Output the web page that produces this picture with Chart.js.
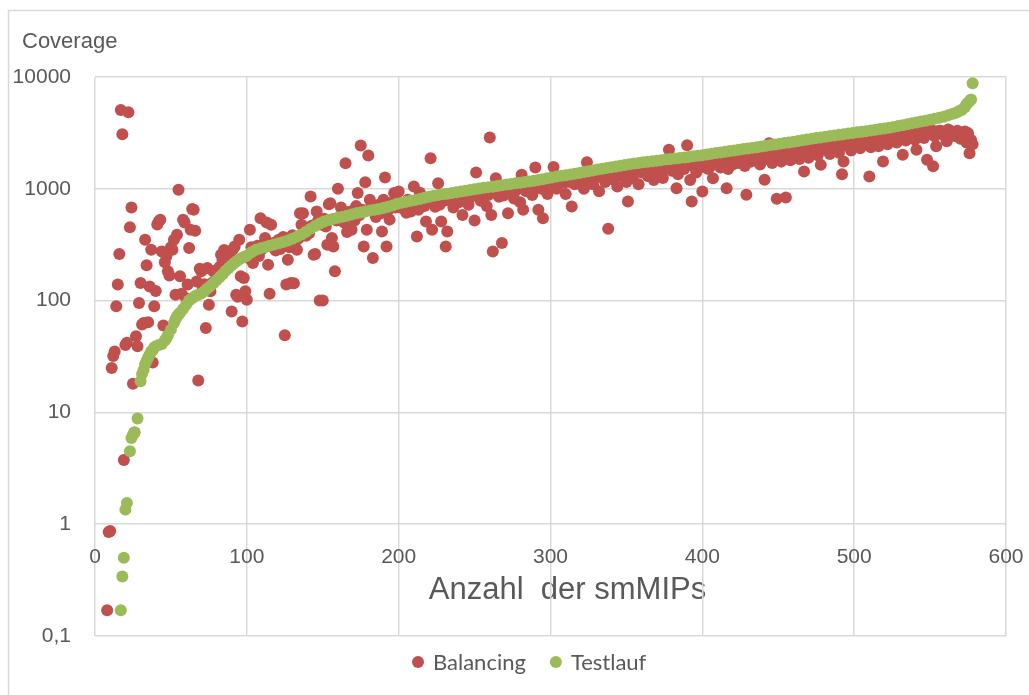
<!DOCTYPE html>
<html>
<head>
<meta charset="utf-8">
<title>Coverage smMIPs</title>
<script src="https://cdn.jsdelivr.net/npm/chart.js@4.4.1/dist/chart.umd.min.js"></script>
<style>
  html, body { margin: 0; padding: 0; background: #ffffff; overflow: hidden; }
  #wrap { position: absolute; left: 0; top: 0; width: 1029px; height: 695px; }
</style>
</head>
<body>
<div id="wrap"><canvas id="chart" width="1029" height="695"></canvas></div>
<script>
// Axis texts
const yAxisTitle = 'Coverage';
const xAxisTitle = 'Anzahl  der smMIPs';

// Y ticks (log scale) and their labels, as printed in the chart
const coverageTicks = [0.1, 1, 10, 100, 1000, 10000];
const coverageTickLabels = ['0,1', '1', '10', '100', '1000', '10000'];

// X ticks
const smmipTicks = [0, 100, 200, 300, 400, 500, 600];

// Balancing: [smMIP index, coverage], scattered part and outliers
const balancing = [
  [8, 0.17], [9, 0.85], [10, 0.87], [11, 25], [12, 32], [13, 35], [14, 89], [15, 139], [16, 261], [17, 5070],
  [18, 3075], [19, 3.75], [20, 40], [21, 42], [22, 4830], [23, 454], [24, 680], [25, 18], [26, 6.6], [27, 48],
  [28, 39], [29, 95], [30, 144], [31, 61], [32, 63], [33, 350], [34, 207], [35, 64], [36, 134], [37, 285],
  [38, 28], [39, 89], [40, 122], [41, 480], [42, 510], [43, 530], [44, 275], [45, 60], [46, 220], [47, 249],
  [48, 183], [49, 168], [50, 300], [51, 285], [52, 350], [53, 113], [54, 388], [55, 980], [56, 165], [57, 115],
  [58, 530], [59, 500], [60, 105], [61, 139], [62, 295], [63, 430], [64, 660], [65, 650], [66, 421], [67, 148],
  [68, 19.3], [69, 193], [70, 183], [71, 130], [72, 140], [73, 57], [74, 196], [75, 92], [76, 121], [77, 144],
  [78, 183], [79, 150], [80, 170], [81, 190], [82, 200], [83, 257], [84, 230], [85, 283], [86, 200], [87, 240],
  [88, 270], [89, 250], [90, 80], [91, 290], [92, 305], [93, 113], [94, 108], [95, 350], [96, 165], [97, 65],
  [98, 159], [99, 121], [100, 102],
  [101, 240], [102, 430], [103, 300], [104, 217], [105, 260], [106, 280], [107, 310], [108, 250], [109, 546], [110, 290],
  [111, 320], [112, 363], [113, 500], [114, 209], [115, 115], [116, 478], [117, 300], [118, 330], [119, 280], [120, 310],
  [121, 350], [122, 290], [123, 330], [124, 370], [125, 49], [126, 139], [127, 232], [128, 300], [129, 144], [130, 385],
  [131, 143], [132, 340], [133, 285], [134, 360], [135, 605], [136, 478], [137, 605], [138, 420], [139, 380], [140, 450],
  [141, 400], [142, 853], [143, 470], [144, 257], [145, 261], [146, 627], [147, 520], [148, 100], [149, 480], [150, 100],
  [151, 540], [152, 460], [153, 316], [154, 729], [155, 743], [156, 363], [157, 305], [158, 183], [159, 520], [160, 1000],
  [161, 560], [162, 680], [163, 600], [164, 500], [165, 1694], [166, 410], [167, 620], [168, 560], [169, 430], [170, 640],
  [171, 520], [172, 700], [173, 915], [174, 580], [175, 2437], [176, 650], [177, 305], [178, 1145], [179, 430], [180, 1983],
  [181, 797], [182, 700], [183, 240], [184, 620], [185, 560], [186, 680], [187, 720], [188, 600], [189, 416], [190, 797],
  [191, 1260], [192, 305], [193, 640], [194, 530], [195, 700], [196, 760], [197, 915], [198, 680], [199, 800], [200, 946],
  [202, 720], [204, 650], [206, 800], [208, 627], [210, 1048], [212, 375], [214, 920], [216, 700], [218, 510], [220, 760],
  [221, 1877], [222, 430], [224, 690], [226, 1122], [228, 510], [230, 780], [231, 305], [232, 416], [234, 840], [236, 680],
  [238, 900], [240, 760], [242, 583], [244, 860], [246, 720], [248, 950], [250, 520], [251, 1400], [252, 880], [254, 780],
  [256, 960], [258, 700], [260, 2870], [261, 583], [262, 275], [264, 1245], [266, 850], [268, 327], [270, 900], [272, 605],
  [274, 1000], [276, 820], [278, 1060], [280, 760], [281, 1333], [282, 650], [284, 950], [286, 1100], [288, 880], [290, 1550],
  [292, 650], [294, 1000], [295, 546], [296, 1150], [298, 900], [300, 1050],
  [302, 1570], [304, 1000], [306, 1150], [308, 1250], [310, 900], [312, 1300], [314, 695], [316, 1100], [318, 1350], [320, 1200],
  [322, 1000], [324, 1727], [326, 1250], [328, 1100], [330, 1350], [332, 950], [334, 1300], [336, 1150], [338, 440], [340, 1400],
  [342, 1200], [344, 1050], [346, 1450], [348, 1300], [350, 1150], [351, 771], [352, 1400], [354, 1250], [356, 1500], [358, 1100],
  [360, 1400], [362, 1600], [364, 1300], [366, 1500], [368, 1200], [370, 1650], [372, 1400], [374, 1250], [376, 1550], [378, 2230],
  [380, 1450], [382, 1650], [383, 1012], [384, 1350], [386, 1700], [388, 1500], [390, 2450], [392, 1200], [393, 771], [394, 1600],
  [396, 1400], [398, 1750], [400, 946], [401, 1570],
  [402, 1800], [404, 1500], [406, 1900], [407, 1245], [408, 1650], [410, 1850], [412, 1550], [414, 2000], [416, 1012], [417, 1500],
  [418, 1800], [420, 1650], [422, 1950], [424, 1700], [426, 2050], [428, 1600], [429, 884], [430, 1900], [432, 1750], [434, 2100],
  [436, 1800], [438, 1650], [440, 2000], [441, 1203], [442, 1850], [444, 2553], [446, 1700], [448, 2050], [449, 815], [450, 1900],
  [452, 1750], [454, 2150], [455, 836], [456, 1950], [458, 1800], [460, 2200], [462, 2000], [464, 1850], [466, 2300], [467, 1430],
  [468, 2100], [470, 1900], [472, 2350], [474, 2150], [476, 2000], [478, 1637], [480, 2400], [482, 2200], [484, 2050], [486, 2500],
  [488, 2300], [490, 2100], [492, 1350], [493, 1754], [494, 2600], [496, 2400], [498, 2200], [500, 2650],
  [502, 2450], [504, 2300], [506, 2750], [508, 2550], [510, 1290], [511, 2350], [512, 2800], [514, 2600], [516, 2400], [518, 2900],
  [519, 1754], [520, 2700], [522, 2500], [524, 3000], [526, 2800], [528, 2600], [530, 3100], [532, 2012], [533, 2850], [534, 2700],
  [536, 3200], [538, 2950], [540, 2750], [541, 2230], [542, 3300], [544, 3050], [546, 2850], [548, 1815], [550, 3150], [552, 1590],
  [553, 2950], [554, 2400], [556, 3300], [558, 3100], [560, 2900], [561, 2660], [562, 3400], [564, 3200], [566, 3000], [567, 2950],
  [568, 3300], [570, 2800], [572, 3135], [574, 2600], [575, 3135], [576, 2080], [577, 2738], [578, 2500]
];

// Balancing: the dense band that runs just under the Testlauf curve
const balancingBand = [
  [201, 680], [203, 700], [205, 610], [207, 720], [209, 690], [211, 740], [213, 650], [215, 760], [217, 700], [219, 790],
  [223, 740], [225, 800], [227, 720], [229, 820], [233, 790], [235, 860], [237, 760], [239, 880], [241, 820], [243, 900],
  [245, 800], [247, 920], [249, 860], [253, 900], [255, 820], [257, 950], [259, 880], [263, 960], [265, 900], [267, 990],
  [269, 870], [271, 1000], [273, 930], [275, 1040], [277, 960], [279, 1050], [283, 980], [285, 1080], [287, 1000], [289, 1100],
  [291, 1020], [293, 1120], [297, 1050], [299, 1150], [301, 1080], [303, 1180], [305, 1100], [307, 1200], [309, 1130], [311, 1220],
  [313, 1150], [315, 1250], [317, 1180], [319, 1280], [321, 1200], [323, 1300], [325, 1220], [327, 1330], [329, 1250], [331, 1360],
  [333, 1280], [335, 1380], [337, 1300], [339, 1400], [341, 1330], [343, 1430], [345, 1350], [347, 1460], [349, 1380], [353, 1480],
  [355, 1400], [357, 1520], [359, 1430], [361, 1540], [363, 1460], [365, 1570], [367, 1480], [369, 1590], [371, 1500], [373, 1610],
  [375, 1530], [377, 1640], [379, 1560], [381, 1660], [385, 1580], [387, 1690], [389, 1600], [391, 1720], [395, 1640], [397, 1750],
  [399, 1660], [403, 1780], [405, 1690], [409, 1820], [411, 1720], [413, 1860], [415, 1760], [419, 1900], [421, 1800], [423, 1950],
  [425, 1850], [427, 1990], [431, 1880], [433, 2030], [435, 1920], [437, 2080], [439, 1960], [443, 2120], [445, 2000], [447, 2170],
  [451, 2050], [453, 2220], [457, 2100], [459, 2270], [461, 2150], [463, 2320], [465, 2200], [469, 2380], [471, 2250], [473, 2440],
  [475, 2300], [477, 2500], [479, 2350], [481, 2560], [483, 2400], [485, 2620], [487, 2450], [489, 2680], [491, 2500], [495, 2740],
  [497, 2550], [499, 2800], [501, 2600], [503, 2850], [505, 2650], [507, 2900], [509, 2700], [513, 2950], [515, 2750], [517, 3000],
  [521, 2800], [523, 3050], [525, 2850], [527, 3100], [529, 2900], [531, 3150], [535, 2950], [537, 3200], [539, 3000], [543, 3250],
  [545, 3050], [547, 3300], [549, 3100], [551, 3350], [555, 3150], [557, 3300], [559, 3200], [563, 3300], [565, 3100], [569, 3200],
  [571, 3000], [573, 3250]
];

// Testlauf: [smMIP index, coverage] (sorted run)
const testlauf = [
  [17, 0.17], [18, 0.34], [19, 0.5], [20, 1.35], [21, 1.55], [23, 4.5], [24, 5.9], [25, 6.3], [26, 6.6], [28, 8.8],
  [30, 19], [31, 22], [32, 24], [33, 27], [34, 29], [35, 31], [36, 33], [37, 35], [38, 36], [39, 38],
  [40, 39], [42, 40], [44, 41], [46, 44], [47, 46], [48, 49], [50, 55], [52, 63], [53, 68], [54, 72],
  [55, 75], [56, 78], [58, 84], [60, 92], [62, 100], [64, 105], [66, 110], [68, 113], [70, 116], [72, 121],
  [74, 128], [76, 135], [78, 143], [80, 152], [82, 162], [84, 172], [86, 185], [88, 196], [90, 207], [92, 218],
  [94, 228], [96, 238], [98, 245], [100, 252], [103, 270], [106, 285], [109, 294], [112, 300], [115, 310], [118, 318],
  [121, 326], [124, 335], [127, 345], [130, 358], [133, 372], [136, 390], [139, 412], [142, 440], [145, 465], [148, 490],
  [151, 510], [154, 525], [157, 540], [160, 552], [163, 562], [166, 575], [169, 590], [172, 603], [175, 615], [178, 627],
  [181, 640], [184, 650], [187, 660], [190, 672], [193, 690], [196, 710], [199, 735], [202, 750], [205, 765], [208, 780],
  [211, 795], [214, 810], [217, 830], [220, 850], [223, 865], [226, 880], [229, 895], [232, 905], [235, 915], [238, 930],
  [241, 945], [244, 960], [247, 975], [250, 990], [253, 1005], [256, 1020], [259, 1035], [262, 1045], [265, 1060], [268, 1075],
  [271, 1090], [274, 1105], [277, 1120], [280, 1135], [283, 1150], [286, 1165], [289, 1180], [292, 1200], [295, 1220], [298, 1240],
  [301, 1260], [304, 1285], [307, 1305], [310, 1325], [313, 1345], [316, 1365], [319, 1385], [322, 1410], [325, 1435], [328, 1460],
  [331, 1485], [334, 1510], [337, 1535], [340, 1560], [343, 1585], [346, 1610], [349, 1635], [352, 1660], [355, 1685], [358, 1705],
  [361, 1725], [364, 1745], [367, 1765], [370, 1785], [373, 1805], [376, 1825], [379, 1845], [382, 1865], [385, 1885], [388, 1905],
  [391, 1925], [394, 1950], [397, 1975], [400, 2000], [403, 2025], [406, 2055], [409, 2085], [412, 2115], [415, 2145], [418, 2175],
  [421, 2205], [424, 2235], [427, 2265], [430, 2295], [433, 2325], [436, 2355], [439, 2390], [442, 2425], [445, 2460], [448, 2495],
  [451, 2530], [454, 2565], [457, 2600], [460, 2640], [463, 2680], [466, 2720], [469, 2760], [472, 2800], [475, 2840], [478, 2880],
  [481, 2920], [484, 2960], [487, 3000], [490, 3040], [493, 3080], [496, 3120], [499, 3160], [502, 3200], [505, 3240], [508, 3280],
  [511, 3320], [514, 3370], [517, 3420], [520, 3470], [523, 3520], [526, 3580], [529, 3640], [532, 3710], [535, 3780], [538, 3850],
  [541, 3920], [544, 3990], [547, 4060], [550, 4140], [553, 4230], [556, 4320], [559, 4420], [562, 4540], [565, 4680], [567, 4800],
  [569, 4950], [571, 5100], [573, 5400], [574, 5700], [575, 5900], [576, 6100], [577, 6300], [578, 8800]
];

const textColor = '#595959';
const gridColor = '#d9d9d9';
const axisFont = '"Liberation Sans", Arial, sans-serif';
const legendFont = 'Lato, "Open Sans", sans-serif';

/**
 * Convert [x, y] pairs to chart points
 */
function toPoints(pairs) {
  return pairs.map(p => ({ x: p[0], y: p[1] }));
}

// Frame around the chart, the two free-standing axis titles and the legend row
const decorPlugin = {
  id: 'decor',
  beforeDraw(chart) {
    const ctx = chart.ctx;
    ctx.save();
    ctx.strokeStyle = gridColor;
    ctx.lineWidth = 1.5;
    ctx.beginPath();
    ctx.moveTo(8.5, 700);
    ctx.lineTo(8.5, 10.5);
    ctx.lineTo(1040, 10.5);
    ctx.stroke();
    ctx.fillStyle = textColor;
    ctx.textBaseline = 'alphabetic';
    ctx.textAlign = 'left';
    ctx.font = '22px ' + axisFont;
    ctx.fillText(yAxisTitle, 22, 48);
    ctx.textAlign = 'center';
    ctx.font = '31px ' + axisFont;
    ctx.fillText(xAxisTitle, 567.5, 599);
    ctx.restore();
  },
  afterDraw(chart) {
    const ctx = chart.ctx;
    ctx.save();
    ctx.font = '22px ' + legendFont;
    ctx.textAlign = 'left';
    ctx.textBaseline = 'alphabetic';
    let x = 412;
    // legend entries in dataset order
    chart.data.datasets.forEach(ds => {
      ctx.fillStyle = ds.backgroundColor;
      ctx.beginPath();
      ctx.arc(x + 6, 662, 6, 0, Math.PI * 2);
      ctx.fill();
      ctx.fillStyle = textColor;
      ctx.fillText(ds.label, x + 21, 670);
      x += 21 + ctx.measureText(ds.label).width + 24;
    });
    ctx.restore();
  }
};

const ctx = document.getElementById('chart').getContext('2d');
new Chart(ctx, {
  type: 'scatter',
  data: {
    datasets: [
      {
        label: 'Balancing',
        data: toPoints(balancing.concat(balancingBand)),
        backgroundColor: '#c0504d',
        borderWidth: 0,
        pointRadius: 6,
        order: 1
      },
      {
        label: 'Testlauf',
        data: toPoints(testlauf),
        backgroundColor: '#9bbb59',
        borderWidth: 0,
        pointRadius: 6,
        order: 0
      }
    ]
  },
  options: {
    responsive: false,
    animation: false,
    layout: {
      padding: { top: 77, right: 23, bottom: 59, left: 0 }
    },
    plugins: {
      tooltip: { enabled: false },
      legend: { display: false }
    },
    scales: {
      x: {
        type: 'linear',
        min: 0,
        max: 600,
        // the labels sit on the value 1 of the log axis, as in the original
        position: { y: 1 },
        afterBuildTicks: (scale) => {
          scale.ticks = smmipTicks.map(v => ({ value: v }));
        },
        ticks: {
          color: textColor,
          padding: 0,
          maxRotation: 0,
          font: { family: 'Liberation Sans', size: 21 }
        },
        grid: {
          color: gridColor,
          lineWidth: 1.5,
          drawTicks: true,
          tickLength: 20,
          tickColor: 'rgba(0,0,0,0)'
        },
        border: { display: false }
      },
      y: {
        type: 'logarithmic',
        min: 0.1,
        max: 10000,
        afterBuildTicks: (scale) => {
          scale.ticks = coverageTicks.map(v => ({ value: v }));
        },
        afterFit: (scale) => {
          scale.width = 95;
        },
        ticks: {
          color: textColor,
          padding: 24,
          font: { family: 'Liberation Sans', size: 21 },
          callback: (value) => {
            const i = coverageTicks.indexOf(value);
            return i >= 0 ? coverageTickLabels[i] : '';
          }
        },
        grid: { color: gridColor, lineWidth: 1.5, drawTicks: false },
        border: { display: false }
      }
    }
  },
  plugins: [decorPlugin]
});
</script>
</body>
</html>
